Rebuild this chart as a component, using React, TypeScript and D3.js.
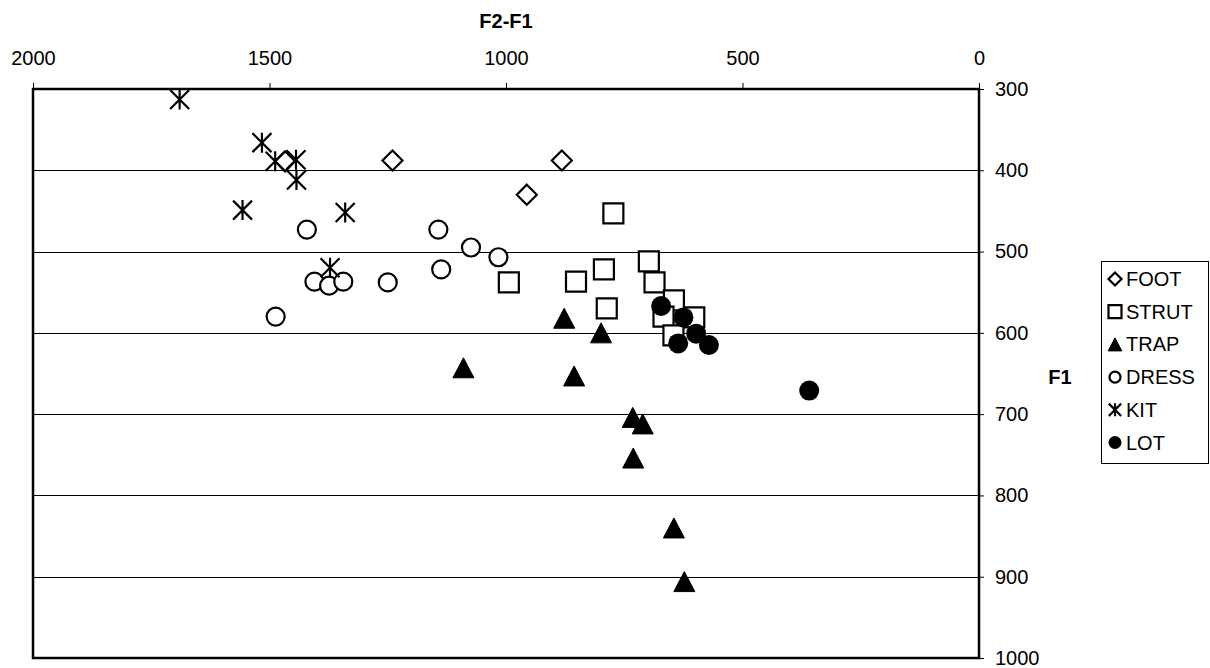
import { useRef, useEffect } from "react";
import * as d3 from "d3";

// F2-F1 values and F1 values for each vowel series
const footX = [1467, 1240, 882, 956];
const footY = [389, 388, 388, 430];

const strutX = [773, 994, 852, 793, 787, 698, 686, 645, 602, 667, 646];
const strutY = [453, 538, 537, 522, 570, 512, 538, 560, 581, 580, 603];

const trapX = [877, 799, 856, 1090, 732, 711, 731, 645, 623];
const trapY = [582, 600, 653, 643, 704, 712, 754, 840, 906];

const dressX = [1421, 1143, 1074, 1016, 1137, 1405, 1374, 1344, 1250, 1487];
const dressY = [473, 473, 495, 507, 522, 537, 542, 537, 538, 580];

const kitX = [1690, 1516, 1488, 1444, 1443, 1557, 1340, 1372];
const kitY = [313, 366, 389, 387, 412, 449, 452, 520];

const lotX = [672, 625, 598, 636, 571, 359];
const lotY = [567, 581, 601, 613, 615, 671];

const xTicks = [2000, 1500, 1000, 500, 0];
const yTicks = [300, 400, 500, 600, 700, 800, 900, 1000];

const seriesNames = ["FOOT", "STRUT", "TRAP", "DRESS", "KIT", "LOT"];

// marker path, centred at 0,0, half size s
function markerPath(name, s) {
  switch (name) {
    case "FOOT":
      return `M0,${-s}L${s},0L0,${s}L${-s},0Z`;
    case "STRUT":
      return `M${-s},${-s}H${s}V${s}H${-s}Z`;
    case "TRAP":
      return `M0,${-s}L${s * 1.05},${s}L${-s * 1.05},${s}Z`;
    case "KIT": {
      const d = s * 0.95;
      return `M${-d},${-d}L${d},${d}M${-d},${d}L${d},${-d}M0,${-s}V${s}`;
    }
    default:
      return "";
  }
}

function App() {
  const svgRef = useRef();

  useEffect(() => {
    const w = 1210;
    const h = 668;
    const svg = d3.select(svgRef.current).attr("width", w).attr("height", h);
    svg.selectAll("*").remove();

    const font = "Liberation Sans, Arial, sans-serif";

    const xScale = d3.scaleLinear().domain([2000, 0]).range([33, 979]);
    const yScale = d3.scaleLinear().domain([300, 1000]).range([89, 658]);

    // gridlines
    svg
      .append("g")
      .selectAll("line")
      .data(yTicks.slice(1, -1))
      .join("line")
      .attr("x1", 33)
      .attr("x2", 979)
      .attr("y1", (d) => Math.round(yScale(d)) + 0.5)
      .attr("y2", (d) => Math.round(yScale(d)) + 0.5)
      .attr("stroke", "#000")
      .attr("stroke-width", 1);

    // top axis
    const xAxis = d3
      .axisTop(xScale)
      .tickValues(xTicks)
      .tickFormat(d3.format("d"))
      .tickSize(6)
      .tickPadding(18);
    const gx = svg.append("g").attr("transform", "translate(0, 89)").call(xAxis);
    gx.select(".domain").remove();
    gx.selectAll("text").attr("font-size", 20).attr("font-family", font).attr("fill", "#000");
    gx.selectAll("line").attr("stroke", "#000");

    // right axis
    const yAxis = d3
      .axisRight(yScale)
      .tickValues(yTicks)
      .tickFormat(d3.format("d"))
      .tickSize(5)
      .tickPadding(11);
    const gy = svg.append("g").attr("transform", "translate(979, 0)").call(yAxis);
    gy.select(".domain").remove();
    gy.selectAll("text").attr("font-size", 20).attr("font-family", font).attr("fill", "#000");
    gy.selectAll("line").attr("stroke", "#000");

    // plot frame
    svg
      .append("rect")
      .attr("x", 33)
      .attr("y", 89)
      .attr("width", 946)
      .attr("height", 569)
      .attr("fill", "none")
      .attr("stroke", "#000")
      .attr("stroke-width", 2.5);

    // axis titles
    svg
      .append("text")
      .attr("x", 506)
      .attr("y", 28)
      .attr("text-anchor", "middle")
      .attr("font-size", 20)
      .attr("font-weight", "bold")
      .attr("font-family", font)
      .text("F2-F1");

    svg
      .append("text")
      .attr("x", 1060)
      .attr("y", 384)
      .attr("text-anchor", "middle")
      .attr("font-size", 20)
      .attr("font-weight", "bold")
      .attr("font-family", font)
      .text("F1");

    const series = [
      { name: "FOOT", xs: footX, ys: footY },
      { name: "STRUT", xs: strutX, ys: strutY },
      { name: "TRAP", xs: trapX, ys: trapY },
      { name: "DRESS", xs: dressX, ys: dressY },
      { name: "KIT", xs: kitX, ys: kitY },
      { name: "LOT", xs: lotX, ys: lotY },
    ];

    const drawMarker = (g, name, s) => {
      if (name === "DRESS") {
        g.append("circle").attr("r", s - 1).attr("fill", "#fff").attr("stroke", "#000").attr("stroke-width", 2.2);
      } else if (name === "LOT") {
        g.append("circle").attr("r", s).attr("fill", "#000");
      } else if (name === "TRAP") {
        g.append("path").attr("d", markerPath(name, s)).attr("fill", "#000").attr("stroke", "#000").attr("stroke-width", 1).attr("stroke-linejoin", "round");
      } else if (name === "KIT") {
        g.append("path").attr("d", markerPath(name, s)).attr("fill", "none").attr("stroke", "#000").attr("stroke-width", 2.2);
      } else {
        g.append("path").attr("d", markerPath(name, s)).attr("fill", "#fff").attr("stroke", "#000").attr("stroke-width", 2.2);
      }
    };

    // points
    series.forEach((sr) => {
      const pts = sr.xs.map((x, i) => [x, sr.ys[i]]);
      svg
        .append("g")
        .selectAll("g")
        .data(pts)
        .join("g")
        .attr("transform", (d) => `translate(${xScale(d[0])}, ${yScale(d[1])})`)
        .each(function () {
          drawMarker(d3.select(this), sr.name, 10);
        });
    });

    // legend
    const lg = svg.append("g");
    lg.append("rect")
      .attr("x", 1101.5)
      .attr("y", 261.5)
      .attr("width", 107)
      .attr("height", 202)
      .attr("fill", "#fff")
      .attr("stroke", "#000")
      .attr("stroke-width", 1);

    seriesNames.forEach((name, i) => {
      const cy = 279 + i * 32.7;
      const m = lg.append("g").attr("transform", `translate(1115, ${cy})`);
      drawMarker(m, name, 6.5);
      lg.append("text")
        .attr("x", 1126)
        .attr("y", cy + 7)
        .attr("font-size", 20)
        .attr("font-family", font)
        .text(name);
    });
  }, []);

  return <svg ref={svgRef} style={{ position: "absolute", left: 0, top: 0 }}></svg>;
}

export default App;
